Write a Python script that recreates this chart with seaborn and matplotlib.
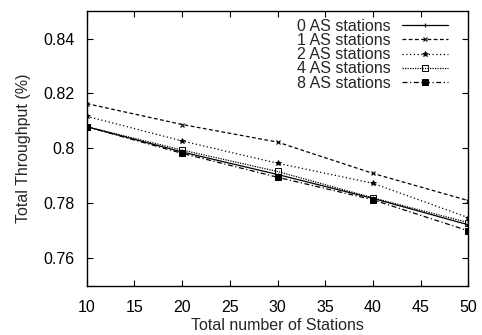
import matplotlib
matplotlib.use("Agg")
import matplotlib.pyplot as plt
import seaborn as sns
import pandas as pd

sns.set_style("white")
plt.rcParams["font.family"] = ["Liberation Sans", "DejaVu Sans"]

stations = [10, 20, 30, 40, 50]
as0 = [0.8079, 0.7987, 0.7905, 0.7818, 0.7722]
as1 = [0.8163, 0.8087, 0.8023, 0.7909, 0.7810]
as2 = [0.8117, 0.8027, 0.7946, 0.7873, 0.7748]
as4 = [0.8079, 0.7994, 0.7916, 0.7820, 0.7730]
as8 = [0.8079, 0.7982, 0.7895, 0.7813, 0.7700]
labels = ["0 AS stations", "1 AS stations", "2 AS stations", "4 AS stations", "8 AS stations"]

series = [as0, as1, as2, as4, as8]
styles = [
    dict(linestyle="-", marker="+", ms=3.5, mfc="black", mew=0.8),
    dict(linestyle=(0, (3, 2)), marker="x", ms=3.5, mfc="black", mew=0.8),
    dict(linestyle=(0, (1, 2)), marker="*", ms=4, mfc="black", mew=0.6),
    dict(linestyle=(0, (1, 1)), marker="s", ms=3.8, mfc="none", mew=0.7),
    dict(linestyle=(0, (4, 2, 1, 2)), marker="s", ms=4.3, mfc="black", mew=0.7),
]

FS = 11.5

fig = plt.figure(figsize=(4.82, 3.35), dpi=100)
ax = fig.add_axes([0.18, 0.147, 0.7916, 0.82])

for vals, lab, st in zip(series, labels, styles):
    df = pd.DataFrame({"x": stations, "y": vals})
    sns.lineplot(data=df, x="x", y="y", ax=ax, color="black", lw=0.9,
                 label=lab, mec="black", **st)

ax.set_xlim(10, 50)
ax.set_ylim(0.75, 0.85)
ax.set_xticks(range(10, 51, 5))
ax.set_yticks([0.76, 0.78, 0.80, 0.82, 0.84])
ax.set_yticklabels(["0.76", "0.78", "0.8", "0.82", "0.84"])
ax.tick_params(direction="in", length=4, width=0.8, labelsize=FS,
               top=True, right=True, bottom=True, left=True, colors="black")
ax.tick_params(axis="x", pad=10)
ax.tick_params(axis="y", pad=9)
for sp in ax.spines.values():
    sp.set_visible(True)
    sp.set_color("black")
    sp.set_linewidth(1.0)

ax.set_xlabel("Total number of Stations", fontsize=FS, labelpad=2.5)
ax.set_ylabel("Total Throughput (%)", fontsize=FS, labelpad=8.5)

leg = ax.legend(loc="upper right", frameon=False, fontsize=FS, markerfirst=False,
                handlelength=2.9, labelspacing=-0.05, borderaxespad=0.0,
                handletextpad=0.7, borderpad=0.3,
                bbox_to_anchor=(0.96, 0.989))
for t in leg.get_texts():
    t.set_ha("right")

fig.savefig("out.png", dpi=100)
